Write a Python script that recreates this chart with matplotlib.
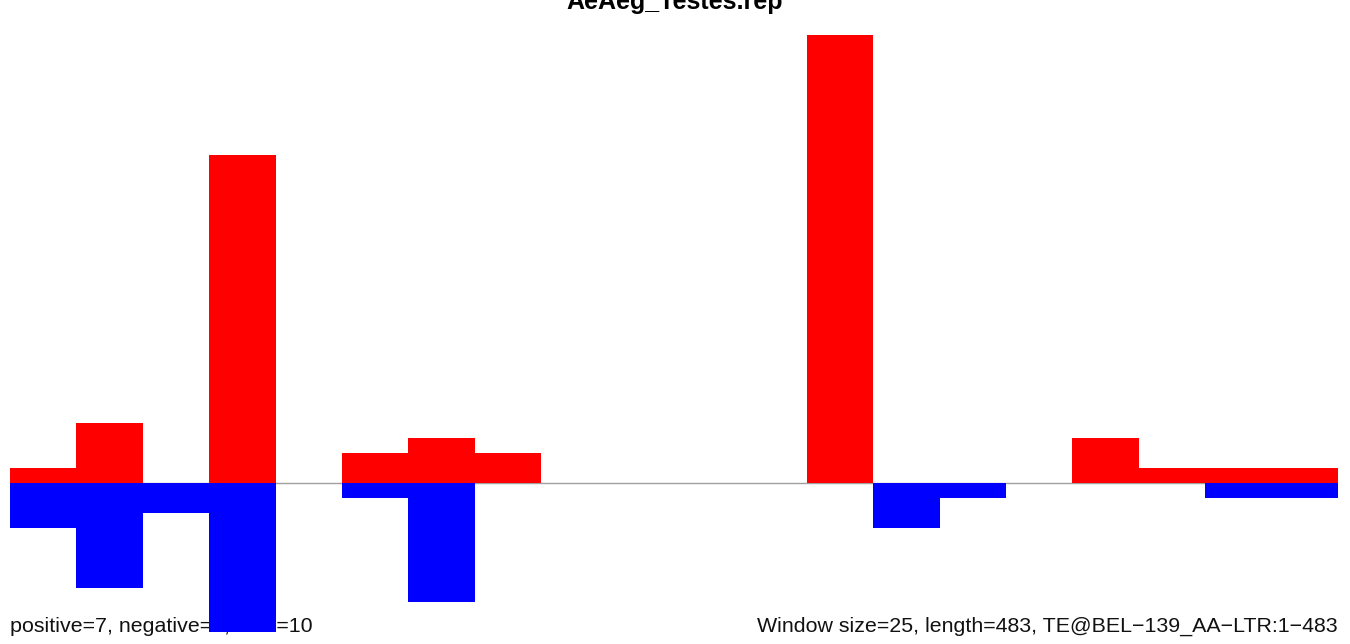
import matplotlib
matplotlib.use("Agg")
import matplotlib.pyplot as plt
import numpy as np

plt.rcParams['font.family'] = ['Liberation Sans', 'DejaVu Sans']

title = "AeAeg_Testes.rep"
window = 25
length = 483
bin_starts = list(range(0, 500, 25))
positive = [1, 4, 0, 22, 0, 2, 3, 2, 0, 0, 0, 0, 30, 0, 0, 0, 3, 1, 1, 1]
negative = [3, 7, 2, 10, 0, 1, 8, 0, 0, 0, 0, 0, 0, 3, 1, 0, 0, 0, 1, 1]
left_note = "positive=7, negative=4, total=10"
right_note = "Window size=25, length=483, TE@BEL\u2212139_AA\u2212LTR:1\u2212483"

W, H = 1350, 644
fig = plt.figure(figsize=(W / 100, H / 100), dpi=100)
ax = fig.add_axes([10 / W, 0, 1328 / W, 1])
ax.patch.set_visible(False)

x = np.array(bin_starts)
ax.bar(x, positive, width=window, align='edge', color='#ff0000', linewidth=0, zorder=2)
ax.bar(x, -np.array(negative), width=window, align='edge', color='#0000ff', linewidth=0, zorder=2)
ax.axhline(0, color='#a0a0a0', linewidth=1.0, zorder=1)

scale = 14.93
ax.set_xlim(0, 500)
ax.set_ylim(-(H - 483) / scale, 483 / scale)
ax.axis('off')

fig.text(10 / W, 1 - 632 / H, left_note, ha='left', va='baseline', fontsize=15.4, color='#111111', zorder=-1)
fig.text(1338 / W, 1 - 632 / H, right_note, ha='right', va='baseline', fontsize=15.4, color='#111111', zorder=-1)
fig.text(0.5, 1 - 9 / H, title, ha='center', va='baseline', fontsize=18, fontweight='bold', color='#000000')

fig.savefig("out.png", dpi=100)
